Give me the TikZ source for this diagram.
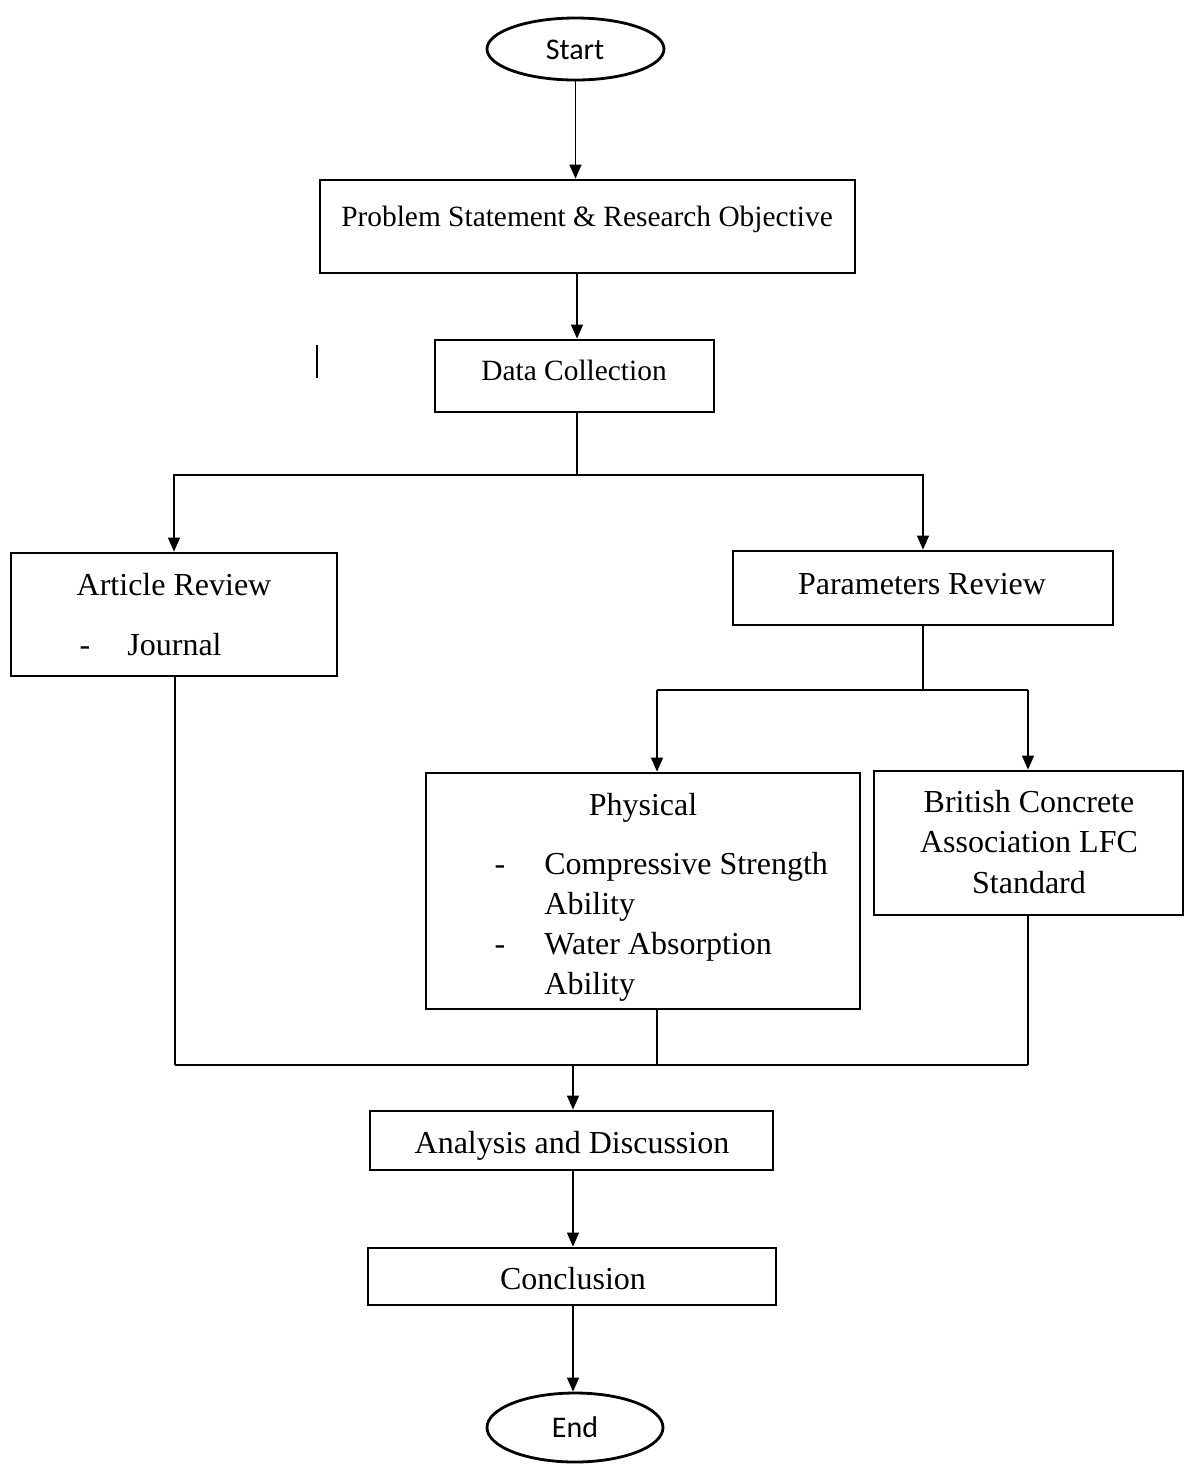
\documentclass[tikz,border=0pt]{standalone}
\usepackage{fontspec}
\setmainfont{Liberation Serif}
\newfontfamily\calib{Carlito}
\usetikzlibrary{shapes.geometric,arrows.meta}
\begin{document}
\begin{tikzpicture}[x=0.5pt,y=-0.5pt,
 box/.style={draw,line width=1.4pt,rectangle,inner sep=0pt},
 oval/.style={draw,line width=1.4pt,ellipse,inner sep=0pt},
 bw/.style={minimum width=#1*0.5pt},
 bh/.style={minimum height=#1*0.5pt},
 conn/.style={line width=0.7pt},
 arr/.style={conn,-{Triangle[length=7pt,width=6pt]}},
 txt/.style={anchor=base,inner sep=0pt,font=\fontsize{16}{20}\selectfont},
 txts/.style={anchor=base,inner sep=0pt,font=\fontsize{14.7}{18}\selectfont},
 ctxt/.style={anchor=base,inner sep=0pt,font=\calib\fontsize{15}{18}\selectfont},
]
\useasboundingbox (0,0) rectangle (1184,1464);

% shapes
\node[oval,bw=177,bh=62] (start) at (575.5,49) {};
\node[box,bw=535,bh=93] (prob) at (587.5,226.5) {};
\node[box,bw=279,bh=72] (data) at (574.5,376) {};
\node[box,bw=326,bh=123] (art) at (174,614.5) {};
\node[box,bw=380,bh=74] (par) at (923,588) {};
\node[box,bw=434,bh=236] (phys) at (643,891) {};
\node[box,bw=309,bh=144] (brit) at (1028.5,843) {};
\node[box,bw=403,bh=59] (ana) at (571.5,1140.5) {};
\node[box,bw=408,bh=57] (con) at (572,1276.5) {};
\node[oval,bw=176,bh=69] (end) at (575,1427.5) {};

% texts
\node[ctxt] (tstart) at (575,59) {Start};
\node[txts] (tprob) at (587,226) {Problem Statement \& Research Objective};
\node[txts] (tdata) at (574,380) {Data Collection};
\node[txt] (tart) at (174,595) {Article Review};
\node[txt] (tartd) at (85,655) {-};
\node[txt,anchor=base west] (tartj) at (127,655) {Journal};
\node[txt] (tpar) at (922,594) {Parameters Review};
\node[txt] (tphys) at (643,815) {Physical};
\node[txt] (td1) at (500,874) {-};
\node[txt,anchor=base west] (tp1) at (544,874) {Compressive Strength};
\node[txt,anchor=base west] (tp2) at (544,914) {Ability};
\node[txt] (td2) at (500,954) {-};
\node[txt,anchor=base west] (tp3) at (544,954) {Water Absorption};
\node[txt,anchor=base west] (tp4) at (544,994) {Ability};
\node[txt] (tb1) at (1029,812) {British Concrete};
\node[txt] (tb2) at (1029,852) {Association LFC};
\node[txt] (tb3) at (1029,893) {Standard};
\node[txt] (tana) at (572,1153) {Analysis and Discussion};
\node[txt] (tcon) at (573,1289) {Conclusion};
\node[ctxt] (tend) at (575,1437) {End};

% stray mark
\draw[line width=0.7pt] (317,345) -- (317,378);

% junction coordinates
\coordinate (j1) at (577,475);
\coordinate (j2) at (923,690);
\coordinate (pl) at (657,690);
\coordinate (pr) at (1028,690);
\coordinate (ml) at (175,1065);
\coordinate (mr) at (1028,1065);
\coordinate (mp) at (657,1065);
\coordinate (mc) at (573,1065);

% connectors
\draw[arr] (start.south) -- (start.south |- prob.north);
\draw[arr] (j1 |- prob.south) -- (j1 |- data.north);
\draw[conn] (j1 |- data.south) -- (j1);
\draw[arr] (j1) -| (art.north);
\draw[arr] (j1) -| (par.north);
\draw[conn] (par.south) -- (j2);
\draw[conn] (pl) -- (pr);
\draw[arr] (pl) -- (pl |- phys.north);
\draw[arr] (pr) -- (pr |- brit.north);
\draw[conn] (ml |- art.south) -- (ml);
\draw[conn] (mp |- phys.south) -- (mp);
\draw[conn] (mr |- brit.south) -- (mr);
\draw[conn] (ml) -- (mr);
\draw[arr] (mc) -- (mc |- ana.north);
\draw[arr] (mc |- ana.south) -- (mc |- con.north);
\draw[arr] (mc |- con.south) -- (mc |- end.north);
\end{tikzpicture}
\end{document}
